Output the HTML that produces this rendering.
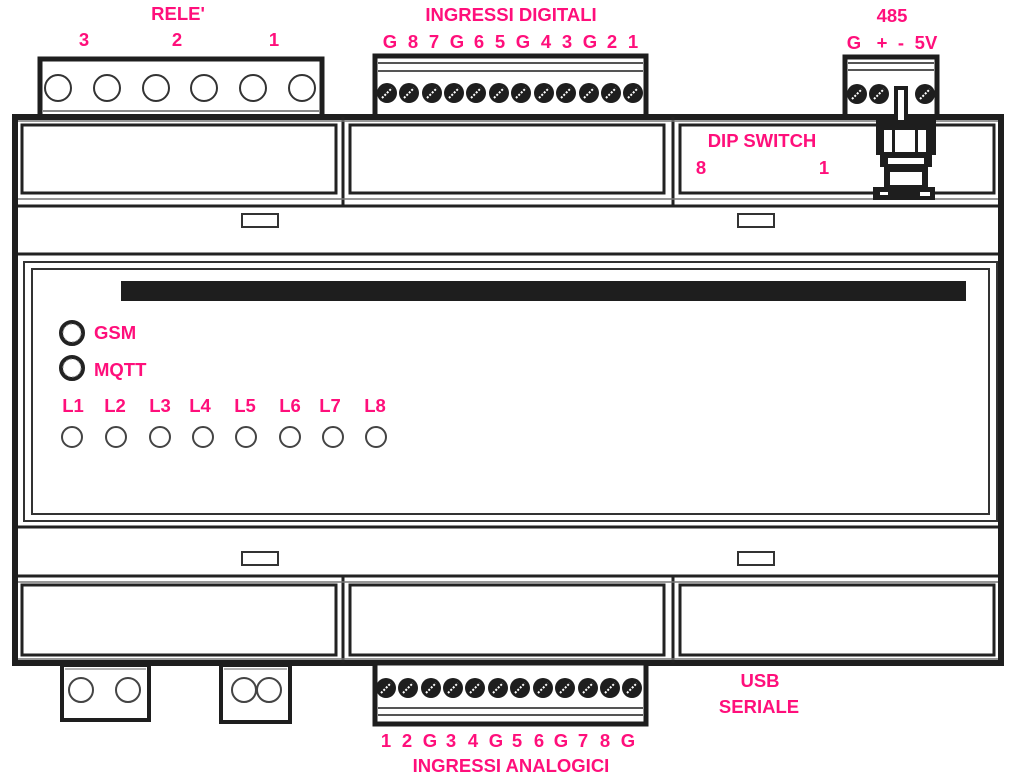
<!DOCTYPE html>
<html><head><meta charset="utf-8"><style>
html,body{margin:0;padding:0;background:#fff;}
svg{display:block}
text{font-family:"Liberation Sans",sans-serif;font-weight:bold;fill:#ff0f7b;font-size:18.5px;text-anchor:middle}
</style></head><body>
<svg width="1024" height="781" viewBox="0 0 1024 781" xmlns="http://www.w3.org/2000/svg">
<defs>
<g id="scr"><circle r="10" fill="#1e1e1e"/><line x1="-5" y1="5" x2="5" y2="-5" stroke="#fff" stroke-width="2" stroke-dasharray="2 1.5"/></g>
</defs>
<rect x="40" y="59" width="282" height="58" fill="#fff" stroke="#1e1e1e" stroke-width="5"/>
<line x1="43" y1="111" x2="319" y2="111" stroke="#888" stroke-width="2"/>
<g fill="none" stroke="#333" stroke-width="2">
<circle cx="58" cy="88" r="13"/><circle cx="107" cy="88" r="13"/><circle cx="156" cy="88" r="13"/><circle cx="204" cy="88" r="13"/><circle cx="253" cy="88" r="13"/><circle cx="302" cy="88" r="13"/>
</g>
<rect x="375" y="56" width="271" height="62" fill="#fff" stroke="#1e1e1e" stroke-width="5"/>
<line x1="378" y1="63" x2="643" y2="63" stroke="#555" stroke-width="2"/>
<line x1="378" y1="71" x2="643" y2="71" stroke="#555" stroke-width="2"/>
<g>
<use href="#scr" x="387" y="93"/><use href="#scr" x="409" y="93"/><use href="#scr" x="432" y="93"/><use href="#scr" x="454" y="93"/><use href="#scr" x="476" y="93"/><use href="#scr" x="499" y="93"/><use href="#scr" x="521" y="93"/><use href="#scr" x="544" y="93"/><use href="#scr" x="566" y="93"/><use href="#scr" x="589" y="93"/><use href="#scr" x="611" y="93"/><use href="#scr" x="633" y="93"/>
</g>
<rect x="845" y="57" width="92" height="60" fill="#fff" stroke="#1e1e1e" stroke-width="5"/>
<line x1="848" y1="63" x2="934" y2="63" stroke="#555" stroke-width="2"/>
<line x1="848" y1="70" x2="934" y2="70" stroke="#555" stroke-width="2"/>
<use href="#scr" x="857" y="94"/><use href="#scr" x="879" y="94"/><use href="#scr" x="925" y="94"/>
<rect x="15" y="117" width="986" height="546" fill="#fff" stroke="#1e1e1e" stroke-width="6"/>
<g fill="none" stroke="#222" stroke-width="3">
<rect x="22" y="125" width="314" height="68"/>
<rect x="350" y="125" width="314" height="68"/>
<rect x="680" y="125" width="314" height="68"/>
<rect x="22" y="585" width="314" height="70"/>
<rect x="350" y="585" width="314" height="70"/>
<rect x="680" y="585" width="314" height="70"/>
</g>
<g stroke="#222" stroke-width="3">
<line x1="343" y1="117" x2="343" y2="205"/><line x1="673" y1="117" x2="673" y2="205"/>
<line x1="343" y1="577" x2="343" y2="663"/><line x1="673" y1="577" x2="673" y2="663"/>
<line x1="18" y1="206" x2="998" y2="206"/>
<line x1="18" y1="254" x2="998" y2="254"/>
<line x1="18" y1="527" x2="998" y2="527"/>
<line x1="18" y1="576" x2="998" y2="576"/>
</g>
<g stroke="#777" stroke-width="1.5">
<line x1="18" y1="199" x2="998" y2="199"/><line x1="18" y1="582" x2="998" y2="582"/>
<line x1="18" y1="121" x2="998" y2="121"/><line x1="18" y1="659" x2="998" y2="659"/>
</g>
<g fill="#fff" stroke="#333" stroke-width="2">
<rect x="242" y="214" width="36" height="13"/><rect x="738" y="214" width="36" height="13"/>
<rect x="242" y="552" width="36" height="13"/><rect x="738" y="552" width="36" height="13"/>
</g>
<rect x="24" y="262" width="973" height="259" fill="none" stroke="#333" stroke-width="2"/>
<rect x="32" y="269" width="957" height="245" fill="none" stroke="#333" stroke-width="2"/>
<rect x="121" y="281" width="845" height="20" fill="#1e1e1e"/>
<g fill="#1e1e1e">
<rect x="876" y="115" width="60" height="40"/>
<rect x="880" y="155" width="52" height="12"/>
<rect x="884" y="167" width="44" height="20"/>
<rect x="873" y="187" width="62" height="13"/>
</g>
<g fill="#fff">
<rect x="884" y="130" width="8" height="22"/><rect x="895" y="130" width="20" height="22"/><rect x="918" y="130" width="8" height="22"/>
<rect x="888" y="158" width="36" height="6"/><rect x="890" y="172" width="32" height="13"/>
<rect x="880" y="192" width="8" height="3"/><rect x="920" y="192" width="10" height="4"/>
</g>
<rect x="894" y="86" width="14" height="37" fill="#1e1e1e"/><rect x="898" y="90" width="6" height="30" fill="#fff"/>
<circle cx="72" cy="333" r="11" fill="none" stroke="#222" stroke-width="4"/>
<circle cx="72" cy="333" r="9" fill="none" stroke="#999" stroke-width="1" stroke-dasharray="2 2"/>
<circle cx="72" cy="368" r="11" fill="none" stroke="#222" stroke-width="4"/>
<circle cx="72" cy="368" r="9" fill="none" stroke="#999" stroke-width="1" stroke-dasharray="2 2"/>
<g fill="none" stroke="#444" stroke-width="2">
<circle cx="72" cy="437" r="10"/><circle cx="116" cy="437" r="10"/><circle cx="160" cy="437" r="10"/><circle cx="203" cy="437" r="10"/><circle cx="246" cy="437" r="10"/><circle cx="290" cy="437" r="10"/><circle cx="333" cy="437" r="10"/><circle cx="376" cy="437" r="10"/>
</g>
<rect x="62" y="665" width="87" height="55" fill="#fff" stroke="#1e1e1e" stroke-width="4"/>
<line x1="65" y1="669" x2="146" y2="669" stroke="#999" stroke-width="1.5"/>
<circle cx="81" cy="690" r="12" fill="none" stroke="#444" stroke-width="2"/><circle cx="128" cy="690" r="12" fill="none" stroke="#444" stroke-width="2"/>
<rect x="221" y="665" width="69" height="57" fill="#fff" stroke="#1e1e1e" stroke-width="4"/>
<line x1="224" y1="669" x2="287" y2="669" stroke="#999" stroke-width="1.5"/>
<circle cx="244" cy="690" r="12" fill="none" stroke="#444" stroke-width="2"/><circle cx="269" cy="690" r="12" fill="none" stroke="#444" stroke-width="2"/>
<rect x="375" y="663" width="271" height="61" fill="#fff" stroke="#1e1e1e" stroke-width="5"/>
<line x1="378" y1="708" x2="643" y2="708" stroke="#555" stroke-width="2"/>
<line x1="378" y1="715" x2="643" y2="715" stroke="#555" stroke-width="2"/>
<g>
<use href="#scr" x="386" y="688"/><use href="#scr" x="408" y="688"/><use href="#scr" x="431" y="688"/><use href="#scr" x="453" y="688"/><use href="#scr" x="475" y="688"/><use href="#scr" x="498" y="688"/><use href="#scr" x="520" y="688"/><use href="#scr" x="543" y="688"/><use href="#scr" x="565" y="688"/><use href="#scr" x="588" y="688"/><use href="#scr" x="610" y="688"/><use href="#scr" x="632" y="688"/>
</g>
<text x="178" y="20">RELE'</text>
<text x="84" y="46">3</text><text x="177" y="46">2</text><text x="274" y="46">1</text>
<text x="511" y="21">INGRESSI DIGITALI</text>
<g>
<text x="390" y="48">G</text><text x="413" y="48">8</text><text x="434" y="48">7</text><text x="457" y="48">G</text><text x="479" y="48">6</text><text x="500" y="48">5</text><text x="523" y="48">G</text><text x="546" y="48">4</text><text x="567" y="48">3</text><text x="590" y="48">G</text><text x="612" y="48">2</text><text x="633" y="48">1</text>
</g>
<text x="892" y="22">485</text>
<text x="854" y="49">G</text><text x="882" y="49">+</text><text x="901" y="49">-</text><text x="926" y="49">5V</text>
<text x="762" y="147">DIP SWITCH</text>
<text x="701" y="174">8</text><text x="824" y="174">1</text>
<text x="94" y="339" style="text-anchor:start">GSM</text>
<text x="94" y="376" style="text-anchor:start">MQTT</text>
<g>
<text x="73" y="412">L1</text><text x="115" y="412">L2</text><text x="160" y="412">L3</text><text x="200" y="412">L4</text><text x="245" y="412">L5</text><text x="290" y="412">L6</text><text x="330" y="412">L7</text><text x="375" y="412">L8</text>
</g>
<text x="760" y="687">USB</text>
<text x="759" y="713">SERIALE</text>
<g>
<text x="386" y="747">1</text><text x="407" y="747">2</text><text x="430" y="747">G</text><text x="451" y="747">3</text><text x="473" y="747">4</text><text x="496" y="747">G</text><text x="517" y="747">5</text><text x="539" y="747">6</text><text x="561" y="747">G</text><text x="583" y="747">7</text><text x="605" y="747">8</text><text x="628" y="747">G</text>
</g>
<text x="511" y="772">INGRESSI ANALOGICI</text>
</svg>
</body></html>
